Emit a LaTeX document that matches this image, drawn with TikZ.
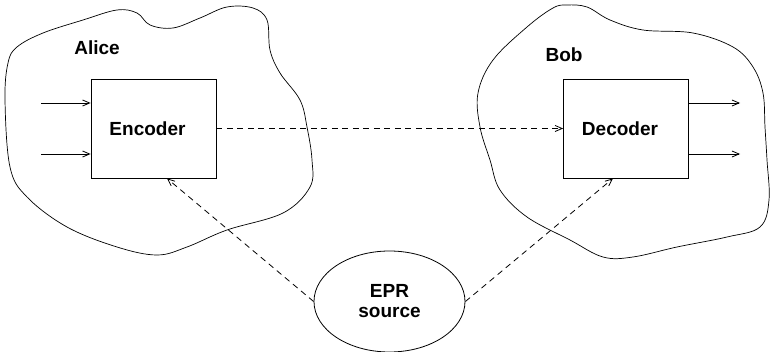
\documentclass[tikz,border=0pt]{standalone}
\usepackage{fontspec}
\setmainfont{Liberation Sans}
\usetikzlibrary{arrows.meta,shapes.geometric}
\tikzset{
  lbl/.style={font=\fontsize{19}{22}\selectfont\bfseries, inner sep=0pt},
  boxnode/.style={draw, line width=0.8pt, minimum width=125pt, minimum height=99pt, inner sep=0pt, font=\fontsize{19}{22}\selectfont\bfseries},
  eprnode/.style={ellipse, draw, line width=0.8pt, minimum width=151pt, minimum height=101pt, inner sep=0pt, align=center, font=\fontsize{19}{22}\selectfont\bfseries},
  blob/.style={draw, line width=0.7pt},
  solidarrow/.style={line width=0.8pt, -{Straight Barb[length=7pt,width=6pt]}},
  dasharrow/.style={line width=0.8pt, dash pattern=on 6pt off 4.5pt, -{Straight Barb[length=7pt,width=6pt]}}
}
\begin{document}
\begin{tikzpicture}[x=1pt,y=-1pt]
\useasboundingbox (0,0) rectangle (771,352);
% Alice blob
\draw[blob] plot[smooth cycle, tension=0.6] coordinates {
 (8,63) (5,100) (10,167) (27,197) (67,227) (117,247) (157,255) (187,247)
 (227,230) (283,213) (310,187) (312,160) (307,127) (300,100) (280,73)
 (270,50) (267,20) (253,8) (227,7) (200,18) (173,28) (150,25) (137,13)
 (117,10) (83,20) (43,33) (17,47)};
% Bob blob
\draw[blob] plot[smooth cycle, tension=0.6] coordinates {
 (567,5) (553,8) (527,27) (493,60) (478,93) (480,127) (490,160) (500,190)
 (527,217) (570,240) (603,257) (633,257) (677,247) (727,237) (760,227)
 (769,200) (767,160) (765,127) (763,93) (753,67) (733,47) (693,33)
 (643,30) (610,20) (587,7)};
\node[lbl] (alice) at (97,48) {Alice};
\node[lbl] (bob) at (564,55) {Bob};
\node[boxnode] (enc) at (153.5,128.5) {\hspace*{-12pt}Encoder};
\node[boxnode] (dec) at (626,128.5) {\hspace*{-12pt}Decoder};
\node[eprnode] (epr) at (389.5,301.5) {EPR\\[-2pt]source};
\coordinate (in1) at (41,103);
\coordinate (in2) at (41,154);
\coordinate (out1) at (740,103);
\coordinate (out2) at (740,154);
\draw[solidarrow] (in1) -- ([yshift=25.5pt]enc.west);
\draw[solidarrow] (in2) -- ([yshift=-25.5pt]enc.west);
\draw[solidarrow] ([yshift=25.5pt]dec.east) -- (out1);
\draw[solidarrow] ([yshift=-25.5pt]dec.east) -- (out2);
\draw[dasharrow] (enc.east) -- (dec.west);
\draw[dasharrow] (epr.west) -- ([xshift=13.5pt]enc.south);
\draw[dasharrow] (epr.east) -- ([xshift=-13pt]dec.south);
\end{tikzpicture}
\end{document}
